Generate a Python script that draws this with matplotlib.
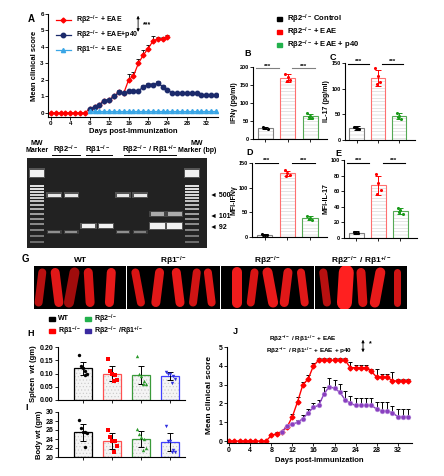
import numpy as np
import matplotlib
matplotlib.use('Agg')
import matplotlib.pyplot as plt
from matplotlib.patches import Rectangle

plt.rcParams['font.family'] = ['Liberation Sans', 'DejaVu Sans']
plt.rcParams['font.weight'] = 'bold'
plt.rcParams['axes.labelweight'] = 'bold'
plt.rcParams['mathtext.fontset'] = 'custom'
plt.rcParams['mathtext.rm'] = 'Liberation Sans:bold'
plt.rcParams['mathtext.bf'] = 'Liberation Sans:bold'
plt.rcParams['mathtext.it'] = 'Liberation Sans:bold'
plt.rcParams['hatch.linewidth'] = 0.4

KO = '$^{-/-}$'
HET = '$^{+/-}$'
R2 = 'Rβ2' + KO
R1 = 'Rβ1' + KO
R21 = R2 + ' / Rβ1' + HET

# ---- panel A: clinical score ----
a_days_red = list(range(0, 25))
a_red = [0, 0, 0, 0, 0, 0, 0, 0, 0.25, 0.35, 0.5, 0.75, 0.8, 1.0, 1.25, 1.2,
         2.0, 2.25, 3.0, 3.5, 3.9, 4.35, 4.5, 4.5, 4.6]
a_red_err = [0] * 16 + [0.35, 0.25, 0.25, 0.3, 0.2, 0.3, 0.12, 0.1, 0.15]
a_days_p40 = list(range(8, 35))
a_p40 = [0.25, 0.35, 0.5, 0.75, 0.8, 1.0, 1.25, 1.2, 1.3, 1.3, 1.3, 1.6, 1.7, 1.7,
         1.8, 1.6, 1.4, 1.2, 1.2, 1.2, 1.2, 1.2, 1.2, 1.1, 1.1, 1.1, 1.1]
a_p40_err = [0, 0, 0, 0, 0, 0, 0.12, 0, 0, 0, 0, 0.1, 0.12, 0.12,
             0.12, 0.08, 0, 0, 0, 0, 0, 0, 0, 0, 0, 0, 0]
a_days_r1 = list(range(8, 35))
a_r1 = [0.1] * 27

# ---- panels B-E: cytokines ----
cyto_groups = [R2 + ' Control', R2 + ' + EAE', R2 + ' + EAE + p40']
b_pts = [[33, 30, 28, 31], [180, 172, 165, 160], [72, 63, 58, 60]]
b_err = [4, 10, 7]
c_pts = [[25, 22, 20, 23], [140, 125, 112, 108], [52, 46, 40, 44]]
c_err = [3, 16, 6]
d_pts = [[6, 5, 5, 4], [136, 130, 125, 124], [42, 38, 35, 36]]
d_err = [1, 5, 4]
e_pts = [[8, 7, 7, 6], [82, 70, 62, 57], [39, 36, 31, 33]]
e_err = [1.5, 12, 4]

# ---- panel F: gel (lane, migration, intensity, width, thickness) ----
gel_lane_labels = ['MW\nMarker', R2, R1, R21, 'MW\nMarker (bp)']
gel_bands = [(0, 15, 1.0, 0.8, 7), (9, 15, 1.0, 0.8, 7),
             (1, 37, 0.95, 0.75, 3), (2, 37, 0.95, 0.75, 3),
             (1, 74, 0.45, 0.7, 2), (2, 74, 0.45, 0.7, 2),
             (3, 68, 1.0, 0.8, 4), (4, 68, 1.0, 0.8, 4),
             (5, 37, 0.95, 0.75, 3), (6, 37, 0.95, 0.75, 3),
             (5, 74, 0.45, 0.7, 2), (6, 74, 0.35, 0.7, 2),
             (7, 56, 0.6, 0.8, 4), (8, 56, 0.6, 0.8, 4),
             (7, 68, 1.0, 0.85, 6), (8, 68, 1.0, 0.85, 6)]
ladder_y = [28, 31, 34, 37, 40, 43, 47, 51, 56, 61, 66, 72, 78, 84]
ladder_i = [0.9, 0.9, 0.85, 0.85, 0.8, 0.75, 0.7, 0.65, 0.55, 0.5, 0.45, 0.4, 0.35, 0.3]
gel_marks = [('500', 37), ('101', 58), ('92', 69)]

# ---- panel G: spinal cords (x frac, tilt, width px, colour) ----
g_titles = ['WT', R1, R2, R21]
g_cords = [
    [(0.07, 0.02, 8, '#b81010'), (0.25, -0.02, 9, '#e01818'), (0.41, 0.03, 10, '#a00c0c'),
     (0.60, -0.01, 9, '#d81414'), (0.83, 0.01, 9, '#e81a1a')],
    [(0.12, -0.03, 8, '#d81414'), (0.33, 0.02, 9, '#e01818'), (0.55, -0.02, 9, '#e81a1a'),
     (0.73, 0.02, 8, '#d01414'), (0.89, -0.02, 8, '#e01818')],
    [(0.17, 0.0, 10, '#f01c1c'), (0.34, 0.02, 8, '#d81414'), (0.53, -0.03, 10, '#e81a1a'),
     (0.70, 0.02, 9, '#e01818'), (0.88, -0.02, 8, '#e01818')],
    [(0.11, -0.02, 8, '#b81010'), (0.33, 0.01, 15, '#ff2020'), (0.51, -0.01, 9, '#d81414'),
     (0.68, 0.03, 10, '#e81a1a'), (0.89, 0.0, 7, '#d01414')],
]

# ---- panels H, I: spleen and body weight ----
hi_groups = ['WT', R1, R2, R2 + ' /Rβ1' + HET]
h_pts = [[0.17, 0.13, 0.12, 0.11, 0.10, 0.095], [0.155, 0.11, 0.10, 0.095, 0.075, 0.07],
         [0.165, 0.10, 0.09, 0.07, 0.06, 0.06], [0.105, 0.10, 0.10, 0.09, 0.08, 0.065]]
h_mean = [0.12, 0.10, 0.095, 0.09]
h_err = [0.025, 0.03, 0.035, 0.015]
i_pts = [[28.2, 26.5, 25.5, 25.5, 25.3, 22.2], [26.0, 24.5, 23.5, 23.5, 22.5, 21.2],
         [26.2, 25.2, 24.5, 24.0, 22.0, 21.5], [27.0, 23.5, 23.5, 21.5, 21.2, 21.2]]
i_mean = [25.5, 23.5, 24.0, 23.4]
i_err = [1.9, 1.8, 1.7, 2.0]

# ---- panel J: clinical score double mutants ----
j_days = list(range(0, 35))
j_red = [0, 0, 0, 0, 0, 0, 0, 0, 0.3, 0.4, 0.5, 0.75, 1.3, 2.1, 3.0, 3.3, 4.0, 4.3,
         4.3, 4.3, 4.3, 4.3, 4.3, 3.9, 3.9, 3.9, 3.9, 3.7, 3.4, 3.4, 3.4, 3.2, 3.2, 3.2, 3.2]
j_red_err = [0, 0, 0, 0, 0, 0, 0, 0, 0.1, 0.1, 0, 0, 0.15, 0.25, 0.15, 0.2, 0.15, 0.1,
             0.1, 0.1, 0.12, 0.1, 0.1, 0.3, 0.15, 0.15, 0.15, 0.15, 0.45, 0.15, 0.15,
             0.45, 0.1, 0.1, 0.1]
j_days_p40 = list(range(10, 35))
j_p40 = [0.5, 0.8, 0.9, 1.0, 1.2, 1.5, 1.8, 1.9, 2.5, 2.9, 2.8, 2.6, 2.2, 2.0, 1.9, 1.9,
         1.9, 1.9, 1.7, 1.6, 1.6, 1.5, 1.3, 1.3, 1.3]
j_p40_err = [0, 0, 0, 0.1, 0.2, 0.2, 0.25, 0.3, 0.35, 0.45, 0.45, 0.45, 0.45, 0.4, 0.4,
             0.4, 0.4, 0.4, 0.4, 0.5, 0.5, 0.35, 0.4, 0.4, 0.4]

W, H = 444, 476
fig = plt.figure(figsize=(W / 100, H / 100), dpi=100)


def px_ax(x0, y0, x1, y1):
    return fig.add_axes([x0 / W, 1 - y1 / H, (x1 - x0) / W, (y1 - y0) / H])


def ftext(x, y, s, **kw):
    kw.setdefault('fontweight', 'bold')
    fig.text(x / W, 1 - y / H, s, **kw)


def style(ax, fs=4.5):
    for s in ['top', 'right']:
        ax.spines[s].set_visible(False)
    for s in ['left', 'bottom']:
        ax.spines[s].set_linewidth(0.8)
    ax.tick_params(labelsize=fs, length=2, width=0.6, pad=1)
    for lab in ax.get_xticklabels() + ax.get_yticklabels():
        lab.set_fontweight('bold')


# panel A
ax = px_ax(48, 14, 218, 117)
ax.errorbar(a_days_red, a_red, yerr=[np.zeros(len(a_red)), a_red_err], fmt='none',
            ecolor='black', elinewidth=0.6, capsize=1.5, capthick=0.6)
ax.plot(a_days_red, a_red, color='red', marker='D', ms=2.5, lw=0.9, label=R2 + ' + EAE')
ax.errorbar(a_days_p40, a_p40, yerr=[np.zeros(len(a_p40)), a_p40_err], fmt='none',
            ecolor='black', elinewidth=0.6, capsize=1.5, capthick=0.6)
ax.plot(a_days_p40, a_p40, color='#1b2a6b', marker='o', ms=3.2, lw=0.9, label=R2 + ' + EAE+p40')
ax.plot(a_days_r1, a_r1, color='#3aa6e6', marker='^', ms=3, lw=0.9, label=R1 + ' + EAE')
ax.set_xlim(-0.6, 34.4)
ax.set_ylim(-0.25, 6)
ax.set_xticks(range(0, 33, 4))
ax.set_yticks(range(0, 7))
ax.set_xlabel('Days post-Immunization', fontsize=5.5, labelpad=1)
ax.set_ylabel('Mean clinical score', fontsize=5.5, labelpad=2)
style(ax)
ax.legend(loc='upper left', bbox_to_anchor=(0.02, 1.04), frameon=False,
          handlelength=2.2, labelspacing=0.25, borderpad=0.1, prop={'weight': 'bold', 'size': 5})
ax.annotate('', xy=(0.53, 1.01), xytext=(0.53, 0.8), xycoords='axes fraction',
            arrowprops=dict(arrowstyle='<|-|>', lw=0.6, color='black', mutation_scale=4))
ax.text(0.56, 0.88, '***', transform=ax.transAxes, fontsize=5)
ftext(28, 22, 'A', fontsize=7)

# panels B-E
edge_cols = ['#808080', '#ff7070', '#55aa55']
dot_cols = ['black', 'red', '#1a9a1a']
leg_cols = ['black', 'red', '#22b14c']


def cyto_panel(box, pts, err, ymax, yticks, ylabel, sig_y, letter, lpos):
    ax = px_ax(*box)
    for i, p in enumerate(pts):
        m = np.mean(p)
        ax.bar(i, m, width=0.68, color='white', edgecolor='#cfcfcf', hatch='-----', lw=0)
        ax.bar(i, m, width=0.68, fill=False, edgecolor=edge_cols[i], lw=0.8)
        ax.errorbar(i, m, yerr=err[i], fmt='none', ecolor=dot_cols[i], elinewidth=0.7,
                    capsize=2, capthick=0.7)
        ax.scatter(i + np.array([-0.12, 0.0, 0.1, -0.05]), p, s=5, color=dot_cols[i],
                   marker='o', zorder=3, lw=0)
    line_col = '#808080' if letter == 'B' else 'black'
    ax.plot([-0.4, 0.6], [sig_y, sig_y], color=line_col, lw=0.8)
    ax.plot([1.2, 2.2], [sig_y, sig_y], color=line_col, lw=0.8)
    ax.text(0.1, sig_y, '***', ha='center', va='bottom', fontsize=4.5)
    ax.text(1.7, sig_y, '***', ha='center', va='bottom', fontsize=4.5)
    ax.set_xlim(-0.55, 2.75)
    ax.set_ylim(0, ymax)
    ax.set_yticks(yticks)
    ax.set_xticks([0, 1, 2])
    ax.set_xticklabels([])
    ax.set_ylabel(ylabel, fontsize=5, labelpad=1)
    style(ax, fs=4)
    ftext(lpos[0], lpos[1], letter, fontsize=6.5)


cyto_panel((253, 67, 327, 139), b_pts, b_err, 200, [0, 50, 100, 150, 200], 'IFNγ (pg/ml)',
           196, 'B', (244, 56))
cyto_panel((345, 63, 415, 139.5), c_pts, c_err, 150, [0, 50, 100, 150], 'IL-17 (pg/ml)',
           148, 'C', (330, 60))
cyto_panel((252, 163, 327, 237), d_pts, d_err, 150, [0, 50, 100, 150], 'MFI-IFNγ',
           150, 'D', (246, 155))
cyto_panel((344, 160, 417, 238), e_pts, e_err, 100, [0, 20, 40, 60, 80, 100], 'MFI-IL-17',
           96, 'E', (335, 156))

for k, (name, col) in enumerate(zip(cyto_groups, leg_cols)):
    y = 19 + k * 13
    fig.patches.append(Rectangle((277 / W, 1 - (y + 2) / H), 5 / W, 4 / H,
                                 transform=fig.transFigure, color=col))
    ftext(287, y, name, fontsize=5.5, va='center')

# panel F: gel
ax = px_ax(27, 158, 207, 248)
ax.set_facecolor('#222222')
for lane, y, inten, wid, th in gel_bands:
    g = 0.25 + 0.7 * inten
    ax.add_patch(Rectangle((lane - wid / 2 - 0.08, y - th / 2 - 1.2), wid + 0.16, th + 2.4,
                           color=(g, g, g), alpha=0.25, lw=0))
    ax.add_patch(Rectangle((lane - wid / 2, y - th / 2), wid, th, color=(g, g, g), lw=0))
for lane in [0, 9]:
    for y, inten in zip(ladder_y, ladder_i):
        g = 0.2 + 0.75 * inten
        ax.add_patch(Rectangle((lane - 0.4, y - 0.9), 0.8, 1.8, color=(g, g, g), lw=0))
ax.set_xlim(-0.58, 9.88)
ax.set_ylim(90, 0)
ax.set_xticks([])
ax.set_yticks([])
for s in ax.spines.values():
    s.set_visible(False)
ftext(37, 147, gel_lane_labels[0], fontsize=5, ha='center', va='center', linespacing=0.9)
ftext(197, 147, gel_lane_labels[4], fontsize=5, ha='center', va='center', linespacing=0.9)
for txt, xc, x0, x1 in [(gel_lane_labels[1], 65, 52, 80), (gel_lane_labels[2], 97, 86, 112),
                        (gel_lane_labels[3], 150, 124, 176)]:
    ftext(xc, 150, txt, fontsize=5.5, ha='center', va='center')
    fig.add_artist(plt.Line2D([x0 / W, x1 / W], [1 - 155 / H, 1 - 155 / H], color='black', lw=0.7))
for lab, y in gel_marks:
    ftext(210, 158 + y, '◄ ' + lab, fontsize=5, va='center')

# panel G: spinal cords
g_boxes = [(34, 126), (127, 220), (221, 314), (315, 407)]
for (x0, x1), title, cords in zip(g_boxes, g_titles, g_cords):
    ax = px_ax(x0, 266, x1, 309)
    ax.set_facecolor('black')
    for xf, tilt, wpx, col in cords:
        ax.plot([xf - tilt, xf + tilt], [0.15, 0.85], color=col, lw=wpx * 0.72,
                solid_capstyle='round')
    ax.set_xlim(0, 1)
    ax.set_ylim(0, 1)
    ax.set_xticks([])
    ax.set_yticks([])
    for s in ax.spines.values():
        s.set_visible(False)
    ftext((x0 + x1) / 2, 261, title, fontsize=6, ha='center', va='center')
ftext(22, 259, 'G', fontsize=7, va='center')

# panels H, I
hi_edge = ['black', '#ff5050', '#3a9a3a', '#4040ff']
hi_dot = ['black', 'red', '#2a9a2a', '#3030e0']
hi_mark = ['o', 's', '^', 'v']
hi_leg = ['black', 'red', '#22b14c', '#3a2aa0']
hi_leg_pos = [(49, 319), (49, 331), (85, 319), (85, 331)]
jit = np.array([-0.15, -0.07, 0.0, 0.08, 0.15, 0.05])


def weight_panel(box, pts, mean, err, ylim, yticks, ylabel, letter, lpos, fmt):
    ax = px_ax(*box)
    for i in range(4):
        ax.bar(i, mean[i] - ylim[0], bottom=ylim[0], width=0.62, color='#f4f4f4',
               edgecolor='#c8c8c8', hatch='.....', lw=0)
        ax.bar(i, mean[i] - ylim[0], bottom=ylim[0], width=0.62, fill=False,
               edgecolor=hi_edge[i], lw=0.9)
        ax.errorbar(i, mean[i], yerr=err[i], fmt='none', ecolor='black', elinewidth=0.7,
                    capsize=2.5, capthick=0.7)
        ax.scatter(i + jit, pts[i], s=6, color=hi_dot[i], marker=hi_mark[i], zorder=3, lw=0)
    ax.set_xlim(-0.86, 3.5)
    ax.set_ylim(*ylim)
    ax.set_yticks(yticks)
    ax.set_yticklabels([fmt.format(v) for v in yticks])
    ax.set_xticks(range(4))
    ax.set_xticklabels([])
    ax.set_ylabel(ylabel, fontsize=5.5, labelpad=2)
    style(ax, fs=5)
    ftext(lpos[0], lpos[1], letter, fontsize=6.5, va='center')


weight_panel((58, 347, 185, 400), h_pts, h_mean, h_err, (0, 0.2),
             [0, 0.05, 0.10, 0.15, 0.20], 'Spleen  wt (gm)', 'H', (27, 334), '{:.2f}')
weight_panel((58, 412, 185, 457), i_pts, i_mean, i_err, (20, 30),
             [20, 22, 24, 26, 28, 30], 'Body wt (gm)', 'I', (25, 407), '{:.0f}')

for name, col, (x, y) in zip(hi_groups, hi_leg, hi_leg_pos):
    fig.patches.append(Rectangle((x / W, 1 - (y + 2) / H), 6 / W, 4 / H,
                                 transform=fig.transFigure, color=col))
    ftext(x + 9, y, name, fontsize=5, va='center')

# panel J
ax = px_ax(227, 347, 412, 443)
ax.errorbar(j_days, j_red, yerr=[np.zeros(len(j_red)), j_red_err], fmt='none',
            ecolor='black', elinewidth=0.7, capsize=1.6, capthick=0.7)
ax.errorbar(j_days_p40, j_p40, yerr=[np.zeros(len(j_p40)), j_p40_err], fmt='none',
            ecolor='black', elinewidth=0.7, capsize=1.6, capthick=0.7)
ax.plot(j_days, j_red, color='red', marker='D', ms=2.5, lw=1.0)
ax.plot(j_days_p40, j_p40, color='#8a3fc0', marker='o', ms=3.4, lw=1.0,
        markeredgecolor='#b890dc', markeredgewidth=0.4)
ax.set_xlim(-0.4, 34.7)
ax.set_ylim(-0.1, 5)
ax.set_xticks(range(0, 33, 4))
ax.set_yticks(range(0, 6))
ax.set_xlabel('Days post-immunization', fontsize=5.5, labelpad=2)
ax.set_ylabel('Mean clinical score', fontsize=6, labelpad=4)
style(ax, fs=5)
ftext(269, 339, R21 + ' + EAE', fontsize=4.6, va='center')
ftext(266, 351, R21 + ' + EAE + p40', fontsize=4.6, va='center')
fig.add_artist(plt.Annotation('', xy=(363 / W, 1 - 337 / H), xytext=(363 / W, 1 - 355 / H),
                              xycoords='figure fraction',
                              arrowprops=dict(arrowstyle='<|-|>', lw=0.6, color='black',
                                              mutation_scale=4)))
ftext(369, 344, '*', fontsize=5, va='center')
ftext(233, 331, 'J', fontsize=6.5, va='center')

fig.savefig('out.png', dpi=100)
